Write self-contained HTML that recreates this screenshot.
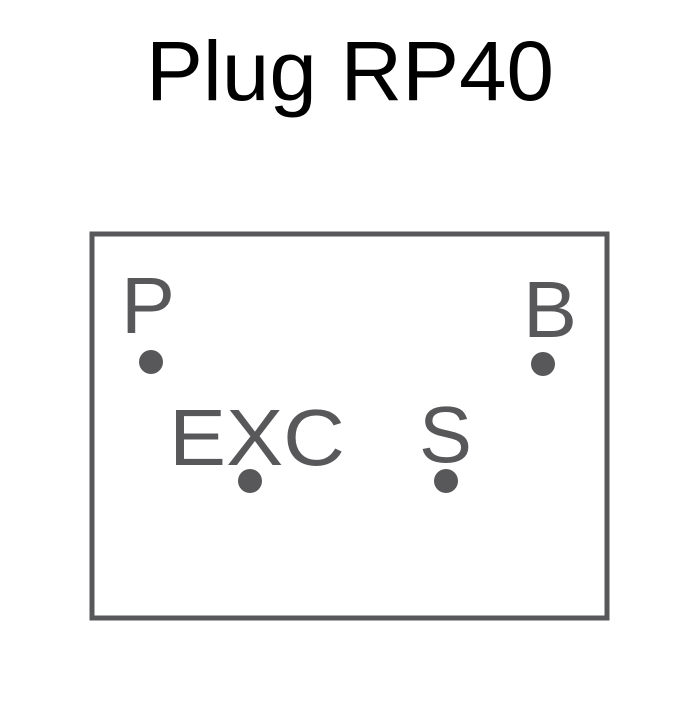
<!DOCTYPE html>
<html><head><style>
body{margin:0;background:#fff;}
</style></head><body>
<svg width="700" height="700" xmlns="http://www.w3.org/2000/svg">
<rect width="700" height="700" fill="#fff"/>
<text x="146" y="100" textLength="408" lengthAdjust="spacingAndGlyphs" font-family="Liberation Sans, sans-serif" font-size="84" fill="#000">Plug RP40</text>
<rect x="92" y="234" width="515" height="384" fill="none" stroke="#58585a" stroke-width="5"/>
<g font-family="Liberation Sans, sans-serif" font-size="80" fill="#58585a">
<text x="121" y="333" textLength="54" lengthAdjust="spacingAndGlyphs">P</text>
<text x="523" y="337" textLength="54" lengthAdjust="spacingAndGlyphs">B</text>
<text x="169" y="465" textLength="176" lengthAdjust="spacingAndGlyphs">EXC</text>
<text x="419" y="462" textLength="53" lengthAdjust="spacingAndGlyphs">S</text>
</g>
<g fill="#58585a">
<circle cx="151" cy="362" r="12"/>
<circle cx="543" cy="364" r="12"/>
<circle cx="250" cy="481" r="12"/>
<circle cx="446" cy="481" r="12"/>
</g>
</svg>
</body></html>
